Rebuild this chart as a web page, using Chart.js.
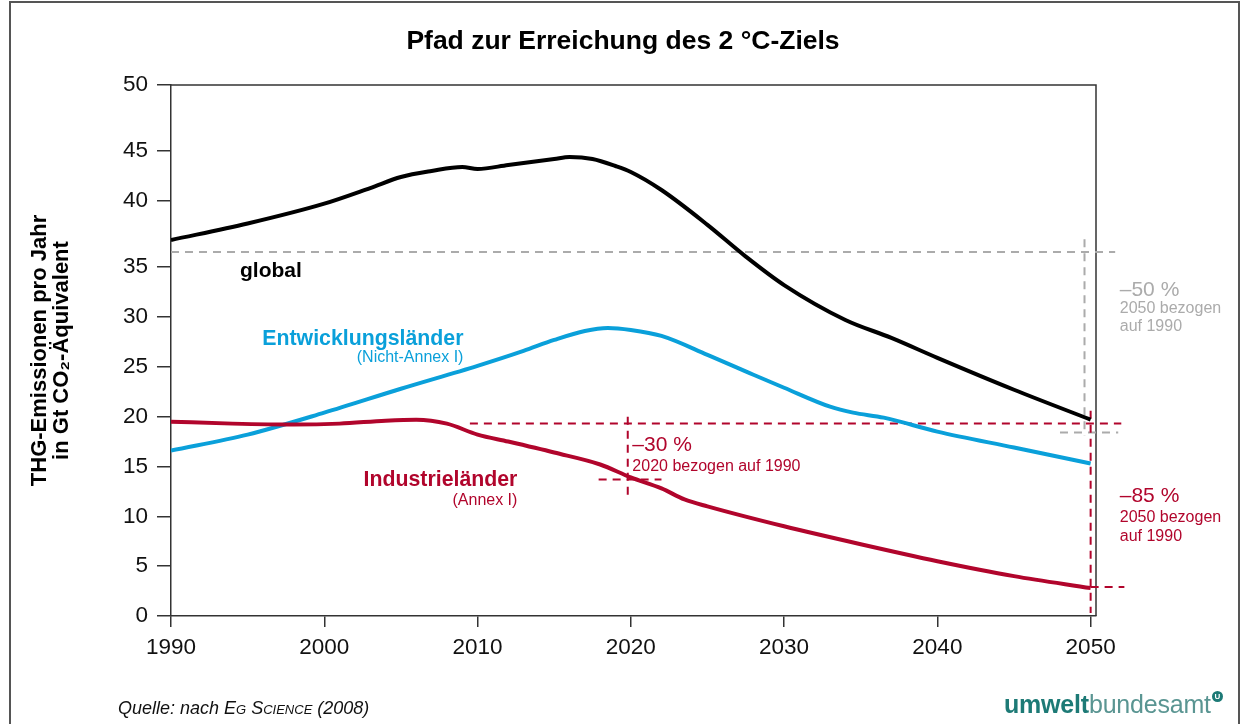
<!DOCTYPE html>
<html lang="de">
<head>
<meta charset="utf-8">
<title>Pfad zur Erreichung des 2 °C-Ziels</title>
<script src="https://cdn.jsdelivr.net/npm/chart.js@4.4.1/dist/chart.umd.min.js"></script>
<style>
  html, body { margin: 0; padding: 0; background: #fff; }
  body { width: 1246px; height: 724px; position: relative; overflow: hidden; font-family: "Liberation Sans", Arial, sans-serif; }
  #frame { position: absolute; left: 9px; top: 1px; width: 1231px; height: 760px; border: 2px solid #555; box-sizing: border-box; pointer-events: none; }
  #chart { position: absolute; left: 0; top: 0; }
  h1 { position: absolute; top: 24px; left: 0; width: 1246px; margin: 0; text-align: center; font-size: 26.5px; line-height: 32px; font-weight: bold; color: #000; }
  .source { position: absolute; left: 118px; top: 697px; font-size: 18px; line-height: 22px; font-style: italic; color: #111; }
  .source .sc { font-variant: small-caps; }
  .logo { position: absolute; left: 1004px; top: 690px; font-size: 25px; line-height: 28px; color: #5a9592; letter-spacing: -0.2px; }
  .logo b { color: #1d7a76; }
  .logo .u { display: inline-block; width: 11px; height: 11px; border-radius: 50%; background: #1d7a76; color: #fff; font-size: 8px; line-height: 11px; text-align: center; font-weight: bold; vertical-align: 14px; margin-left: 1px; }
</style>
</head>
<body>
<div id="frame"></div>
<canvas id="chart" width="1246" height="724"></canvas>
<h1>Pfad zur Erreichung des 2 °C-Ziels</h1>
<div class="source">Quelle: nach <span class="sc">Eg Science</span> (2008)</div>
<div class="logo"><b>umwelt</b>bundesamt<span class="u">U</span></div>
<script>
// Data (Gt CO2-Äquivalent)
const globalYears  = [1990, 1995, 2000, 2003, 2005, 2007, 2009, 2010, 2012, 2015, 2016, 2017.5, 2019, 2020, 2022, 2025, 2027.5, 2030, 2034, 2037, 2040, 2045, 2050];
const globalValues = [37.05, 38.3, 39.8, 41.3, 42.4, 43.0, 43.4, 43.2, 43.6, 44.2, 44.4, 44.2, 43.5, 42.9, 41.1, 38.2, 35.8, 33.2, 29.7, 27.9, 25.9, 22.7, 19.7];

const devYears  = [1990, 1995, 2000, 2005, 2010, 2013, 2015, 2017, 2018.5, 2020, 2022, 2025, 2028, 2030, 2033, 2034.5, 2036.5, 2040, 2045, 2050];
const devValues = [16.6, 18.2, 20.4, 22.8, 25.1, 26.6, 27.7, 28.6, 28.9, 28.7, 28.1, 26.2, 24.2, 22.9, 21.0, 20.4, 19.9, 18.5, 16.9, 15.3];

const indYears  = [1990, 1994, 1998, 2001, 2004, 2006, 2008, 2010, 2012, 2015, 2018, 2020, 2022, 2023.5, 2025, 2030, 2035, 2040, 2045, 2050];
const indValues = [19.5, 19.3, 19.2, 19.3, 19.6, 19.7, 19.3, 18.2, 17.5, 16.4, 15.2, 13.9, 12.8, 11.7, 11.0, 9.0, 7.2, 5.5, 4.0, 2.8];

const xTicks = [1990, 2000, 2010, 2020, 2030, 2040, 2050];
const yTicks = [0, 5, 10, 15, 20, 25, 30, 35, 40, 45, 50];

// The original axis is not evenly spaced above 35
const yKnotValues = [0, 35, 40, 45, 50];
const yKnotShare  = [0, 0.657, 0.7815, 0.8757, 1];

const RED = '#b1052c';
const BLUE = '#0aa0da';
const GRAY = '#ababab';

// reference lines (data coordinates)
const refLines = [
  { color: GRAY, x1: 1990, y1: 36.15, x2: 2051.6, y2: 36.15 },
  { color: GRAY, x1: 2049.6, y1: 37.1, x2: 2049.6, y2: 18.1 },
  { color: GRAY, x1: 2048, y1: 18.4, x2: 2051.8, y2: 18.4 },
  { color: RED, x1: 2009.5, y1: 19.3, x2: 2052, y2: 19.3 },
  { color: RED, x1: 2019.8, y1: 20.0, x2: 2019.8, y2: 12.1 },
  { color: RED, x1: 2017.9, y1: 13.7, x2: 2022, y2: 13.7 },
  { color: RED, x1: 2050, y1: 20.6, x2: 2050, y2: 0.3 },
  { color: RED, x1: 2050, y1: 2.9, x2: 2052.2, y2: 2.9 }
];

const labels = [
  { text: 'global', x: 1994.5, y: 34.6, size: 21, bold: true, color: '#000', align: 'left' },
  { text: 'Entwicklungsländer', x: 2009.08, y: 27.8, size: 21.3, bold: true, color: BLUE, align: 'right' },
  { text: '(Nicht-Annex I)', x: 2009.08, y: 25.9, size: 16, color: BLUE, align: 'right' },
  { text: 'Industrieländer', x: 2012.6, y: 13.6, size: 21.3, bold: true, color: RED, align: 'right' },
  { text: '(Annex I)', x: 2012.6, y: 11.6, size: 16, color: RED, align: 'right' },
  { text: '–30 %', x: 2020.1, y: 17.1, size: 21, color: RED, align: 'left' },
  { text: '2020 bezogen auf 1990', x: 2020.1, y: 15.0, size: 16, color: RED, align: 'left' },
  { text: '–50 %', x: 2051.9, y: 32.7, size: 21, color: GRAY, align: 'left' },
  { text: '2050 bezogen', x: 2051.9, y: 30.8, size: 16, color: GRAY, align: 'left' },
  { text: 'auf 1990', x: 2051.9, y: 29.0, size: 16, color: GRAY, align: 'left' },
  { text: '–85 %', x: 2051.9, y: 12.0, size: 21, color: RED, align: 'left' },
  { text: '2050 bezogen', x: 2051.9, y: 9.9, size: 16, color: RED, align: 'left' },
  { text: 'auf 1990', x: 2051.9, y: 8.0, size: 16, color: RED, align: 'left' }
];

const FONT = '"Liberation Sans", Arial, sans-serif';
Chart.defaults.font.family = FONT;

function toShare(v) {
  for (let i = 1; i < yKnotValues.length; i++) {
    if (v <= yKnotValues[i] || i === yKnotValues.length - 1) {
      const a = yKnotValues[i - 1], b = yKnotValues[i];
      return yKnotShare[i - 1] + (v - a) / (b - a) * (yKnotShare[i] - yKnotShare[i - 1]);
    }
  }
}
function fromShare(s) {
  for (let i = 1; i < yKnotShare.length; i++) {
    if (s <= yKnotShare[i] || i === yKnotShare.length - 1) {
      const a = yKnotShare[i - 1], b = yKnotShare[i];
      return yKnotValues[i - 1] + (s - a) / (b - a) * (yKnotValues[i] - yKnotValues[i - 1]);
    }
  }
}

class PiecewiseScale extends Chart.LinearScale {
  getPixelForValue(value) {
    return value === null ? NaN : this.getPixelForDecimal(toShare(value));
  }
  getValueForPixel(pixel) {
    return fromShare(this.getDecimalForPixel(pixel));
  }
}
PiecewiseScale.id = 'piecewise';
PiecewiseScale.defaults = Chart.LinearScale.defaults;
Chart.register(PiecewiseScale);

function series(years, values) {
  return years.map((yr, i) => ({ x: yr, y: values[i] }));
}

const annotations = {
  id: 'annotations',
  beforeDatasetsDraw(chart) {
    const { ctx, chartArea, scales: { x, y } } = chart;
    ctx.save();
    // top and right frame of the plot
    ctx.strokeStyle = '#333';
    ctx.lineWidth = 1.5;
    ctx.beginPath();
    ctx.moveTo(chartArea.left, chartArea.top);
    ctx.lineTo(chartArea.right, chartArea.top);
    ctx.lineTo(chartArea.right, chartArea.bottom);
    ctx.stroke();

    ctx.lineWidth = 2;
    ctx.setLineDash([8, 6]);
    refLines.forEach(l => {
      ctx.strokeStyle = l.color;
      ctx.beginPath();
      ctx.moveTo(x.getPixelForValue(l.x1), y.getPixelForValue(l.y1));
      ctx.lineTo(x.getPixelForValue(l.x2), y.getPixelForValue(l.y2));
      ctx.stroke();
    });
    ctx.restore();
  },
  afterDraw(chart) {
    const { ctx, scales: { x, y } } = chart;
    ctx.save();
    ctx.textBaseline = 'middle';
    labels.forEach(t => {
      ctx.font = (t.bold ? 'bold ' : '') + t.size + 'px ' + FONT;
      ctx.fillStyle = t.color;
      ctx.textAlign = t.align;
      ctx.fillText(t.text, x.getPixelForValue(t.x), y.getPixelForValue(t.y));
    });
    ctx.restore();
  }
};

const lineStyle = { borderWidth: 4, pointRadius: 0, cubicInterpolationMode: 'monotone', fill: false };

new Chart(document.getElementById('chart'), {
  type: 'line',
  data: {
    datasets: [
      { label: 'Industrieländer', data: series(indYears, indValues), borderColor: RED, ...lineStyle },
      { label: 'Entwicklungsländer', data: series(devYears, devValues), borderColor: BLUE, ...lineStyle },
      { label: 'global', data: series(globalYears, globalValues), borderColor: '#000', ...lineStyle }
    ]
  },
  options: {
    responsive: false,
    animation: false,
    layout: { padding: { top: 85, right: 150, bottom: 48, left: 0 } },
    plugins: { legend: { display: false }, tooltip: { enabled: false } },
    scales: {
      x: {
        type: 'linear',
        min: 1990,
        max: 2050.35,
        afterFit: s => { s.height = 60; },
        afterBuildTicks: s => { s.ticks = xTicks.map(v => ({ value: v })); },
        grid: { drawOnChartArea: false, drawTicks: true, tickLength: 11, color: '#333', lineWidth: 1.5 },
        border: { color: '#333', width: 1.5 },
        ticks: { font: { size: 22.5 }, color: '#111', padding: 7, maxRotation: 0, callback: v => String(v) }
      },
      y: {
        type: 'piecewise',
        min: 0,
        max: 50,
        afterFit: s => { s.width = 171; },
        afterBuildTicks: s => { s.ticks = yTicks.map(v => ({ value: v })); },
        grid: { drawOnChartArea: false, drawTicks: true, tickLength: 14, color: '#333', lineWidth: 1.5 },
        border: { color: '#333', width: 1.5 },
        ticks: { font: { size: 22.5 }, color: '#111', padding: 9, callback: v => String(v) },
        title: {
          display: true,
          text: ['THG-Emissionen pro Jahr', 'in Gt CO₂-Äquivalent'],
          font: { size: 22, weight: 'bold', lineHeight: 1.0 },
          color: '#000',
          padding: { top: 29, bottom: 0 }
        }
      }
    }
  },
  plugins: [annotations]
});
</script>
</body>
</html>
